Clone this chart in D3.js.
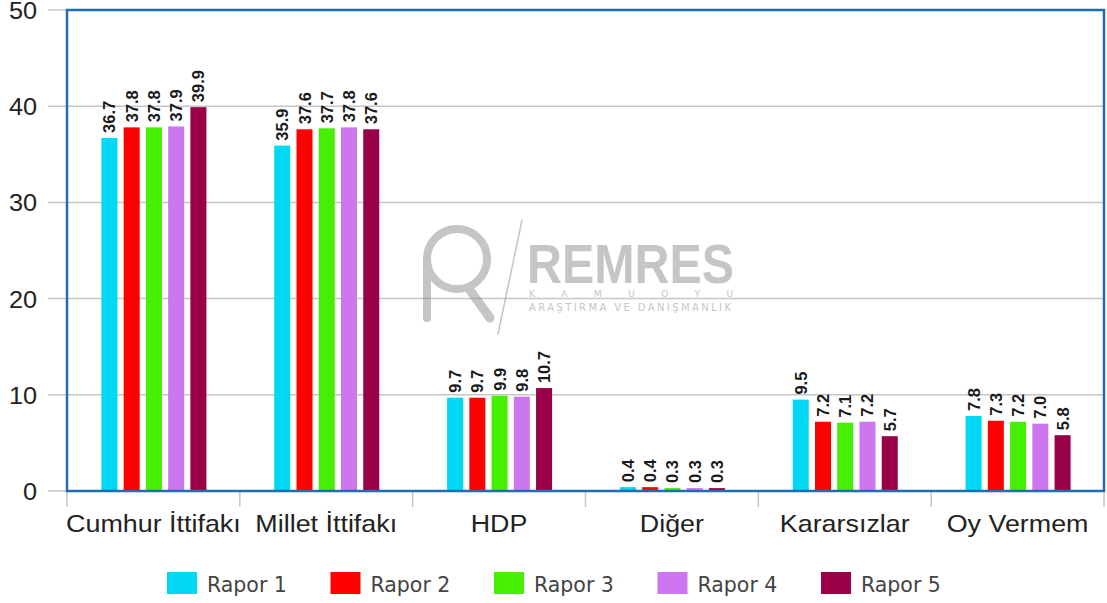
<!DOCTYPE html>
<html><head><meta charset="utf-8">
<script src="https://cdn.jsdelivr.net/npm/d3@7"></script>
<style>body{margin:0;background:#fff}svg{display:block}</style>
</head><body><svg id="c" width="1107" height="603"></svg>
<script>
const categories = ["Cumhur İttifakı","Millet İttifakı","HDP","Diğer","Kararsızlar","Oy Vermem"];
const seriesNames = ["Rapor 1","Rapor 2","Rapor 3","Rapor 4","Rapor 5"];
const rapor1 = [36.7,35.9,9.7,0.4,9.5,7.8];
const rapor2 = [37.8,37.6,9.7,0.4,7.2,7.3];
const rapor3 = [37.8,37.7,9.9,0.3,7.1,7.2];
const rapor4 = [37.9,37.8,9.8,0.3,7.2,7.0];
const rapor5 = [39.9,37.6,10.7,0.3,5.7,5.8];
const yTicks = [0,10,20,30,40,50];
const colors = ["#00d8f4","#ff0000","#46ee00","#cc77f0","#990048"];
const series = [rapor1,rapor2,rapor3,rapor4,rapor5];

const svg = d3.select("#c");
const L=67,R=1104,T=10,B=491;
const x = d3.scaleBand().domain(categories).range([L,R]);
const xs = d3.scaleBand().domain(d3.range(5)).range([0,105]).paddingInner(0.28);
const y = d3.scaleLinear().domain([0,50]).range([B,T]);
const FONT = "Liberation Sans, Arial, sans-serif";

// grid
svg.append("g").selectAll("line").data(yTicks).join("line")
  .attr("x1",48).attr("x2",R).attr("y1",d=>y(d)).attr("y2",d=>y(d))
  .attr("stroke","#c6c6c6").attr("stroke-width",1.5);
svg.append("g").selectAll("text").data(yTicks).join("text")
  .attr("transform",d=>`translate(37,${y(d)+9}) scale(1.1,1)`).attr("text-anchor","end")
  .attr("font-family",FONT).attr("font-size",23).attr("fill","#222")
  .text(d=>d);

// watermark
const wm = svg.append("g").attr("opacity",0.5).attr("fill","#8c8c8c").attr("stroke","#8c8c8c").attr("stroke-linecap","round");
wm.append("circle").attr("cx",457).attr("cy",259).attr("r",30).attr("fill","none").attr("stroke-width",8);
wm.append("line").attr("x1",469).attr("y1",289).attr("x2",490).attr("y2",318).attr("stroke-width",9);
wm.append("line").attr("x1",427).attr("y1",259).attr("x2",427).attr("y2",318).attr("stroke-width",8);
wm.append("line").attr("x1",522).attr("y1",220).attr("x2",498).attr("y2",334).attr("stroke-width",1.5);
wm.append("text").attr("x",527).attr("y",283).attr("stroke","none").attr("font-family",FONT).attr("font-weight","bold")
  .attr("font-size",55).attr("textLength",207).attr("lengthAdjust","spacingAndGlyphs").text("REMRES");
wm.append("text").attr("x",529).attr("y",297).attr("stroke","none").attr("font-family","DejaVu Sans, sans-serif")
  .attr("font-size",9).attr("textLength",204).text("KAMUOYU");
wm.append("text").attr("x",529).attr("y",311).attr("stroke","none").attr("font-family","DejaVu Sans, sans-serif")
  .attr("font-size",10).attr("textLength",202).text("ARAŞTIRMA VE DANIŞMANLIK");

// bars
const gCat = svg.append("g").selectAll("g").data(categories).join("g")
  .attr("transform",d=>`translate(${x(d)+x.bandwidth()/2-52},0)`);
gCat.each(function(cat,ci){
  const g=d3.select(this);
  series.forEach((s,si)=>{
    const v=s[ci];
    g.append("rect").attr("x",xs(si)).attr("y",y(v)).attr("width",xs.bandwidth()).attr("height",B-y(v))
      .attr("fill",colors[si]);
    const cx=xs(si)+xs.bandwidth()/2+6;
    g.append("text").attr("transform",`translate(${cx},${y(v)-5}) rotate(-90)`)
      .attr("font-family",FONT).attr("font-weight","bold").attr("font-size",16.5)
      .attr("fill","#1a1a1a").text(v.toFixed(1));
  });
});

// x axis ticks
svg.append("g").selectAll("line").data(d3.range(7)).join("line")
  .attr("x1",d=>L+d*x.step()).attr("x2",d=>L+d*x.step()).attr("y1",B).attr("y2",507)
  .attr("stroke","#c6c6c6").attr("stroke-width",1.5);
svg.append("g").selectAll("text").data(categories).join("text")
  .attr("transform",d=>`translate(${x(d)+x.bandwidth()/2},532) scale(1.12,1)`).attr("text-anchor","middle")
  .attr("font-family",FONT).attr("font-size",24).attr("fill","#222").text(d=>d);

// plot border
svg.append("rect").attr("x",L).attr("y",T).attr("width",R-L).attr("height",B-T)
  .attr("fill","none").attr("stroke","#1f6db4").attr("stroke-width",2.5);

// legend
const lg = svg.append("g").selectAll("g").data(seriesNames).join("g")
  .attr("transform",(d,i)=>`translate(${167+i*163.5},572)`);
lg.append("rect").attr("width",30).attr("height",22).attr("fill",(d,i)=>colors[i]);
lg.append("text").attr("x",40).attr("y",20).attr("font-family","DejaVu Sans, sans-serif").attr("font-size",20.5)
  .attr("fill","#444").text(d=>d);
</script></body></html>
